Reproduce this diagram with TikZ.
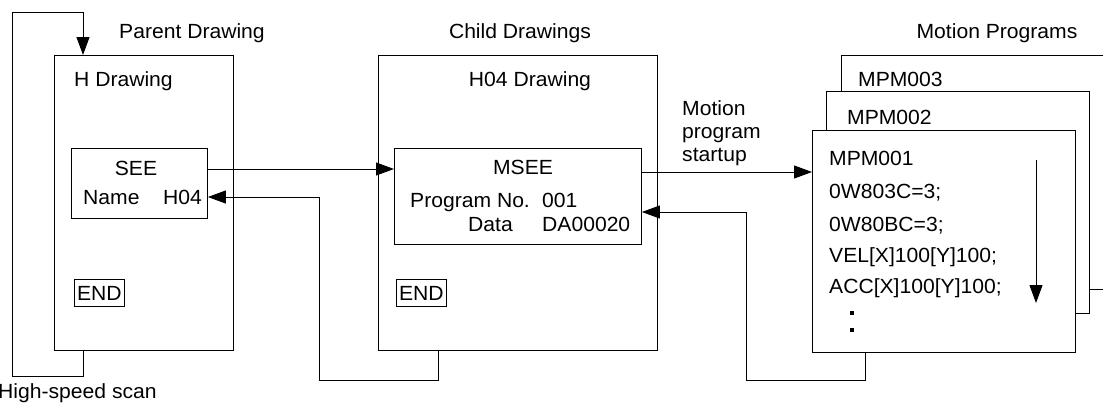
\documentclass[tikz,border=0pt]{standalone}
\usepackage{fontspec}
\setmainfont{Liberation Sans}[FakeStretch=1.03]
\usetikzlibrary{arrows.meta,calc}
\begin{document}
\begin{tikzpicture}[x=1pt,y=-1pt,
 box/.style={draw,line width=0.9pt,fill=white,inner sep=0pt,anchor=north west},
 lbl/.style={inner sep=0pt,font=\fontsize{20.5}{24}\selectfont},
 ln/.style={line width=0.9pt},
 dotm/.style={fill=black,inner sep=0pt,minimum size=3.6pt},
 arr/.style={line width=0.9pt,-{Triangle[length=18pt,width=13pt]}}]
\useasboundingbox (0,0) rectangle (1103,415);
\clip (0,0) rectangle (1103,415);
% drawings
\node[box,minimum width=179pt,minimum height=295pt] (H) at (54,55) {};
\node[box,minimum width=136pt,minimum height=70pt] (SEE) at (71,148) {};
\node[box,lbl,minimum width=50pt,minimum height=27pt] (ENDa) at (74,279) {END};
\node[box,minimum width=279pt,minimum height=295pt] (H04) at (378,55) {};
\node[box,minimum width=247pt,minimum height=96pt] (MSEE) at (394,148) {};
\node[box,lbl,minimum width=50pt,minimum height=27pt] (ENDb) at (396,279) {END};
\node[box,minimum width=300pt,minimum height=234pt] (M3) at (841,55) {};
\node[box,minimum width=263pt,minimum height=222pt] (M2) at (826,91) {};
\node[box,minimum width=263pt,minimum height=222pt] (M1) at (812,130) {};
% titles
\node[lbl,anchor=base] (tParent) at (192,38) {Parent Drawing};
\node[lbl,anchor=base] (tChild) at (520,38) {Child Drawings};
\node[lbl,anchor=base] (tMotion) at (997,38) {Motion Programs};
\node[lbl,anchor=base west] (tH) at (74,86) {H Drawing};
\node[lbl,anchor=base] (tH04) at (530,86) {H04 Drawing};
\node[lbl,anchor=base] (tSEE) at (136,175) {SEE};
\node[lbl,anchor=base west] (tName) at (83,204) {Name};
\node[lbl,anchor=base west] (tNameV) at (163,204) {H04};
\node[lbl,anchor=base] (tMSEE) at (523,174) {MSEE};
\node[lbl,anchor=base west] (tProg) at (410,207) {Program No.};
\node[lbl,anchor=base west] (tProgV) at (542,207) {001};
\node[lbl,anchor=base west] (tData) at (468,231) {Data};
\node[lbl,anchor=base west] (tDataV) at (542,231) {DA00020};
\node[lbl,anchor=base west] (tS1) at (682,115) {Motion};
\node[lbl,anchor=base west] (tS2) at (682,138) {program};
\node[lbl,anchor=base west] (tS3) at (682,161) {startup};
\node[lbl,anchor=base west] (tM3) at (858,86) {MPM003};
\node[lbl,anchor=base west] (tM2) at (847,124) {MPM002};
\node[lbl,anchor=base west] (tM1) at (829,165) {MPM001};
\node[lbl,anchor=base west] (c1) at (829,198) {0W803C=3;};
\node[lbl,anchor=base west] (c2) at (829,231) {0W80BC=3;};
\node[lbl,anchor=base west] (c3) at (829,262) {VEL[X]100[Y]100;};
\node[lbl,anchor=base west] (c4) at (829,293) {ACC[X]100[Y]100;};
\node[dotm] (d1) at (852,313) {};
\node[dotm] (d2) at (852,330) {};
\node[lbl,anchor=base west] (tScan) at (-2,398) {High-speed scan};
% helper coordinates
\coordinate (loopA) at (12,376);
\coordinate (loopB) at (12,12);
\coordinate (r1) at (0,169);
\coordinate (r2) at (0,197);
\coordinate (cr2) at (319,380);
\coordinate (r3) at (0,172);
\coordinate (r4) at (0,212);
\coordinate (cr4) at (746,380);
\coordinate (runA) at (1036,160);
\coordinate (runB) at (1036,303);
% connectors
\draw[arr] ([xshift=29pt]H.south west) |- (loopA) -- (loopB) -| ([xshift=29pt]H.north west);
\draw[arr] (SEE.east |- r1) -- (MSEE.west |- r1);
\draw[arr] ([xshift=60pt]H04.south west) |- (cr2) |- (SEE.east |- r2);
\draw[arr] (MSEE.east |- r3) -- (M1.west |- r3);
\draw[arr] ([xshift=53pt]M1.south west) |- (cr4) |- (MSEE.east |- r4);
\draw[arr] (runA) -- (runB);
\end{tikzpicture}
\end{document}
